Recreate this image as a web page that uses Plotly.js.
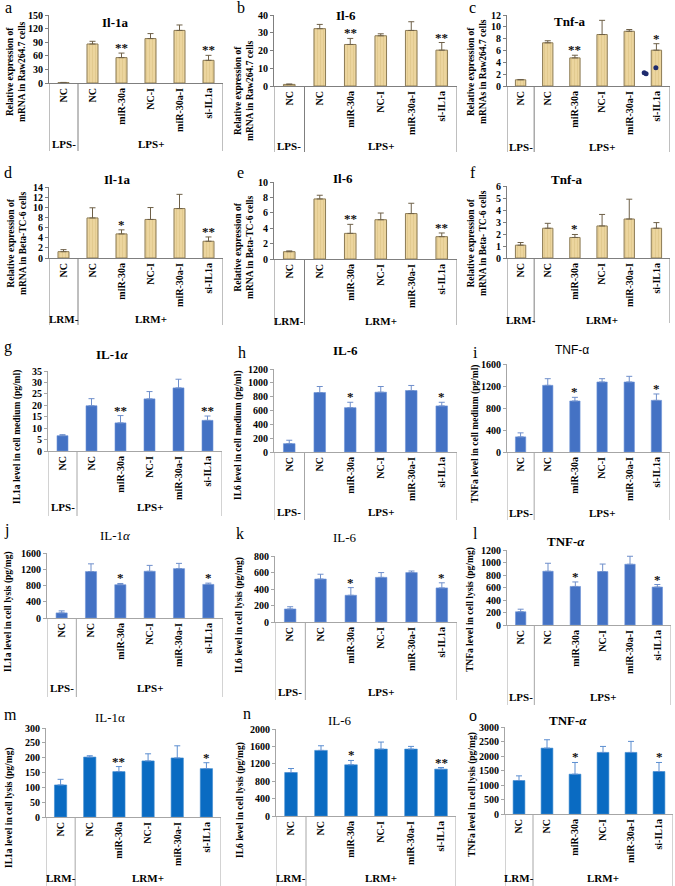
<!DOCTYPE html>
<html><head><meta charset="utf-8">
<script src="https://cdn.plot.ly/plotly-3.0.1.min.js"></script>
<style>html,body{margin:0;padding:0;background:#fff}#chart{width:675px;height:886px}</style>
</head><body><div id="chart"></div>
<script>
// ---------- DATA ----------
const categories = ['NC', 'NC', 'miR-30a', 'NC-I', 'miR-30a-I', 'si-IL1a'];
const lpsGroups = ['LPS-', 'LPS+'];
const lrmGroups = ['LRM-', 'LRM+'];

// Row 1: mRNA in Raw264.7 cells
const a_mean = [1.0, 86, 56, 98, 116, 50];
const a_err  = [0.3, 6, 10, 11, 12, 11];
const a_star = ['', '', '**', '', '', '**'];
const b_mean = [0.9, 32.3, 23.4, 28.3, 31.3, 20.2];
const b_err  = [0.2, 2.4, 3.4, 1.1, 4.9, 4.3];
const b_star = ['', '', '**', '', '', '**'];
const c_mean = [1.05, 7.3, 4.75, 8.7, 9.25, 6.05];
const c_err  = [0.05, 0.35, 0.45, 2.4, 0.3, 1.1];
const c_star = ['', '', '**', '', '', '*'];
const c_strayDotX = [4.55, 4.62, 4.98];
const c_strayDotY = [2.25, 2.05, 3.1];
// Row 2: mRNA in Beta-TC-6 cells
const d_mean = [1.25, 7.9, 4.75, 7.6, 9.75, 3.3];
const d_err  = [0.4, 2.0, 0.8, 2.35, 2.8, 0.85];
const d_star = ['', '', '*', '', '', '**'];
const e_mean = [0.95, 7.8, 3.33, 5.1, 5.9, 2.9];
const e_err  = [0.1, 0.48, 1.17, 0.87, 1.34, 0.48];
const e_star = ['', '', '**', '', '', '**'];
const f_mean = [1.07, 2.48, 1.71, 2.67, 3.25, 2.48];
const f_err  = [0.22, 0.41, 0.25, 0.96, 1.65, 0.47];
const f_star = ['', '', '*', '', '', ''];
// Row 3: level in cell medium
const g_mean = [6.7, 19.8, 12.3, 22.8, 27.6, 13.4];
const g_err  = [0.45, 3.1, 3.2, 3.2, 3.8, 1.9];
const g_star = ['', '', '**', '', '', '**'];
const h_mean = [121, 860, 641, 865, 889, 666];
const h_err  = [49, 87, 78, 82, 73, 53];
const h_star = ['', '', '*', '', '', '*'];
const i_mean = [275, 1212, 927, 1273, 1273, 939];
const i_err  = [73, 121, 67, 60, 103, 116];
const i_star = ['', '', '*', '', '', '*'];
// Row 4: level in cell lysis (LPS)
const j_mean = [125, 1143, 819, 1150, 1215, 827];
const j_err  = [50, 190, 31, 145, 130, 31];
const j_star = ['', '', '*', '', '', '*'];
const k_mean = [158, 521, 324, 541, 599, 413];
const k_err  = [27, 58, 93, 58, 19, 62];
const k_star = ['', '', '*', '', '', '*'];
const l_mean = [212, 860, 617, 855, 972, 607];
const l_err  = [41, 128, 72, 120, 128, 41];
const l_star = ['', '', '*', '', '', '*'];
// Row 5: level in cell lysis (LRM)
const m_mean = [108, 202, 153, 189, 199, 163];
const m_err  = [19, 4.5, 17, 24, 41, 20];
const m_star = ['', '', '**', '', '', '*'];
const n_mean = [1000, 1508, 1177, 1538, 1538, 1077];
const n_err  = [92, 107, 100, 162, 62, 38];
const n_star = ['', '', '*', '', '', '**'];
const o_mean = [1154, 2272, 1373, 2123, 2123, 1465];
const o_err  = [161, 288, 404, 207, 381, 312];
const o_star = ['', '', '*', '', '', '*'];

const letters = ['a','b','c','d','e','f','g','h','i','j','k','l','m','n','o'];
const titles = ['Il-1a','Il-6','Tnf-a','Il-1a','Il-6','Tnf-a',
  'IL-1<i>α</i>','IL-6','TNF-α','IL-1<i>α</i>','IL-6','TNF-<i>α</i>','IL-1α','IL-6','TNF-<i>α</i>'];
const yTitles = [
  'Relative expression of<br>mRNA in Raw264.7 cells',
  'Relative expression of<br>mRNA in Raw264.7 cells',
  'Relative expression of<br>mRNAs in Raw264.7 cells',
  'Relative expression of<br>mRNA in Beta-TC-6 cells',
  'Relative expression of<br>mRNA in Beta-TC-6 cells',
  'Relative expression of<br>mRNA in Beta- TC-6 cells',
  'IL1a level in cell medium (pg/ml)',
  'IL6 level in cell medium (pg/ml)',
  'TNFa level in cell medium (pg/ml)',
  'IL1a level in cell lysis (pg/mg)',
  'IL6 level in cell lysis (pg/mg)',
  'TNFa level in cell lysis (pg/mg)',
  'IL1a level in cell lysis (pg/mg)',
  'IL6 level in cell lysis (pg/mg)',
  'TNFa level in cell lysis (pg/mg)'];
const yMax  = [150, 40, 12, 14, 10, 6, 35, 1200, 1600, 1600, 800, 1200, 300, 2000, 3000];
const yStep = [30, 10, 2, 2, 2, 1, 5, 200, 400, 400, 200, 200, 50, 400, 500];

// ---------- LAYOUT (pixel boxes) ----------
const W = 675, H = 886;
const fx = p => p / W, fy = p => 1 - p / H;
const boxes = [
 {x0:49,x1:223,y0:83,yt:15,by:151,gy:144,tx:115,ty:23,lx:8,ly:8,yx:16,yy:72},
 {x0:274,x1:457,y0:86,yt:15,by:152,gy:146,tx:346,ty:16,lx:241,ly:8,yx:244,yy:90},
 {x0:507,x1:670,y0:86,yt:15,by:152,gy:147,tx:570,ty:22,lx:472,ly:8,yx:477,yy:72},
 {x0:49,x1:223,y0:258,yt:187,by:325,gy:319,tx:117,ty:179,lx:8,ly:172,yx:17,yy:244},
 {x0:274,x1:457,y0:259,yt:182,by:325,gy:321,tx:343,ty:178,lx:240,ly:172,yx:244,yy:247},
 {x0:507,x1:670,y0:258,yt:186,by:323,gy:320,tx:567,ty:179,lx:473,ly:172,yx:477,yy:243},
 {x0:48,x1:222,y0:451,yt:371,by:516,gy:507,tx:113,ty:354,lx:8,ly:347,yx:17,yy:437},
 {x0:274,x1:457,y0:452,yt:369,by:520,gy:512,tx:345,ty:350,lx:242,ly:353,yx:238,yy:435},
 {x0:507,x1:670,y0:452,yt:364,by:520,gy:513,tx:572,ty:350,lx:475,ly:352,yx:476,yy:433},
 {x0:47,x1:223,y0:618,yt:553,by:697,gy:688,tx:116,ty:535,lx:6,ly:530,yx:8,yy:612},
 {x0:275,x1:457,y0:622,yt:556,by:700,gy:692,tx:345,ty:537,lx:240,ly:533,yx:239,yy:615},
 {x0:507,x1:671,y0:625,yt:550,by:705,gy:697,tx:566,ty:541,lx:476,ly:533,yx:470,yy:610},
 {x0:46,x1:221,y0:817,yt:728,by:886,gy:878,tx:110,ty:717,lx:10,ly:714,yx:9,yy:808},
 {x0:276,x1:456,y0:816,yt:729,by:886,gy:878,tx:340,ty:720,lx:247,ly:713,yx:240,yy:800},
 {x0:505,x1:673,y0:814,yt:727,by:886,gy:878,tx:568,ty:720,lx:473,ly:715,yx:472,yy:795}
];

const means = [a_mean,b_mean,c_mean,d_mean,e_mean,f_mean,g_mean,h_mean,i_mean,j_mean,k_mean,l_mean,m_mean,n_mean,o_mean];
const errs  = [a_err,b_err,c_err,d_err,e_err,f_err,g_err,h_err,i_err,j_err,k_err,l_err,m_err,n_err,o_err];
const stars = [a_star,b_star,c_star,d_star,e_star,f_star,g_star,h_star,i_star,j_star,k_star,l_star,m_star,n_star,o_star];

const SERIF = 'Liberation Serif, Times New Roman, serif';
const SANS = 'Liberation Sans, Arial, sans-serif';
const styles = {
  tan:  {fill:'#ECD59E', line:'#8C7B55', lw:1, err:'#6E6048', axis:'#7F7F7F'},
  blue: {fill:'#4472C4', line:'#6F93D6', lw:0.6, err:'#6F8FCB', axis:'#A6A6A6'},
  deep: {fill:'#0A6BC2', line:'#3D89D0', lw:0.6, err:'#5C8ED0', axis:'#A6A6A6'}
};

const data = [], annotations = [], shapes = [];
const layout = {width:W, height:H, margin:{l:0,r:0,t:0,b:0}, paper_bgcolor:'#fff', plot_bgcolor:'#fff',
  showlegend:false, bargap:0.6};

function paperText(x, y, text, font, extra) {
  return Object.assign({xref:'paper', yref:'paper', x:fx(x), y:fy(y), xanchor:'center', yanchor:'middle',
    text:text, showarrow:false, font:font}, extra || {});
}

for (let p = 0; p < 15; p++) {
  const n = p + 1, suf = n === 1 ? '' : n;
  const xa = 'x' + suf, ya = 'y' + suf;
  const b = boxes[p];
  const st = p < 6 ? styles.tan : (p < 12 ? styles.blue : styles.deep);
  const groups = (p >= 3 && p < 6) || p >= 12 ? lrmGroups : lpsGroups;
  const idx = categories.map((_, k) => k);

  layout['xaxis' + suf] = {domain:[fx(b.x0), fx(b.x1)], anchor:ya, range:[-0.5, 5.5],
    tickmode:'array', tickvals:idx, ticktext:categories, tickangle:-90, ticks:'',
    showline:true, linecolor:st.axis, linewidth:1, showgrid:false, zeroline:false, fixedrange:true,
    tickfont:{family:SERIF, size:10, color:'#000', weight:'bold'}};
  layout['yaxis' + suf] = {domain:[fy(b.y0), fy(b.yt)], anchor:xa, range:[0, yMax[p]], dtick:yStep[p],
    showline:true, linecolor:st.axis, linewidth:1, ticks:'outside', ticklen:3, tickcolor:st.axis,
    showgrid:false, zeroline:false, fixedrange:true,
    tickfont:{family:SERIF, size:10, color:'#000', weight:'bold'}};

  const trace = {type:'bar', x:idx, y:means[p], xaxis:xa, yaxis:ya, width:p >= 12 ? 0.42 : 0.38,
    marker:{color:st.fill, line:{color:st.line, width:st.lw}},
    error_y:{type:'data', symmetric:false, array:errs[p], arrayminus:idx.map(() => 0),
      color:st.err, thickness:1, width:3}, hoverinfo:'none'};
  if (p < 6) trace.marker.pattern = {shape:'|', fillmode:'replace', bgcolor:'#ECD59E', fgcolor:'#DCC285', size:3, solidity:0.2};
  data.push(trace);

  // stars
  stars[p].forEach((s, k) => {
    if (!s) return;
    annotations.push({xref:xa, yref:ya, x:k, y:means[p][k] + errs[p][k], xanchor:'center', yanchor:'bottom', yshift:-4,
      text:s, showarrow:false, font:{family:SERIF, size:13, color:'#111', weight:'bold'}});
  });
  // multi-level category brackets
  [-0.5, 0.5, 5.5].forEach(xv => {
    shapes.push({type:'line', xref:xa, yref:'paper', x0:xv, x1:xv, y0:fy(b.y0), y1:fy(b.by),
      line:{color:st.axis, width:1}});
  });
  annotations.push({xref:xa, yref:'paper', x:0, y:fy(b.gy), xanchor:'center', yanchor:'middle', text:groups[0], showarrow:false,
    font:{family:SERIF, size:11, color:'#000', weight:'bold'}});
  annotations.push({xref:xa, yref:'paper', x:3, y:fy(b.gy), xanchor:'center', yanchor:'middle', text:groups[1], showarrow:false,
    font:{family:SERIF, size:11, color:'#000', weight:'bold'}});
  // panel title
  const tfont = p === 8 ? {family:SANS, size:12, color:'#000'} :
    {family:SERIF, size:13, color:'#000', weight:(p < 9 || p === 11 || p === 14) ? 'bold' : 'normal'};
  annotations.push(paperText(b.tx, b.ty, titles[p], tfont));
  // panel letter
  annotations.push(paperText(b.lx, b.ly, letters[p], {family:SERIF, size:16, color:'#000'}));
  // y title
  annotations.push(paperText(b.yx, b.yy, yTitles[p],
    {family:SERIF, size:9.5, color:'#000', weight:'bold'}, {textangle:-90}));
}
// stray dots visible in panel c of the original figure
data.push({type:'scatter', mode:'markers', x:c_strayDotX, y:c_strayDotY, xaxis:'x3', yaxis:'y3',
  marker:{color:'#1F2B6E', size:5}, hoverinfo:'none'});

layout.annotations = annotations;
layout.shapes = shapes;
Plotly.newPlot('chart', data, layout, {staticPlot:true, displayModeBar:false});
</script></body></html>
